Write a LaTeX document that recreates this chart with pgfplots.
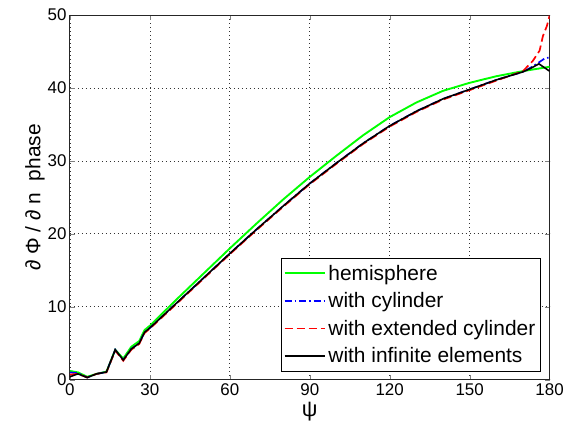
\documentclass[border=0pt]{standalone}
\usepackage{fontspec}
\setmainfont{Liberation Sans}
\usepackage{pgfplots}
\pgfplotsset{compat=1.18}
\begin{document}
\begin{tikzpicture}
\begin{axis}[
  scale only axis,
  width=480bp, height=365bp,
  xmin=0, xmax=180, ymin=0, ymax=50,
  xtick={0,30,...,180}, ytick={0,10,...,50},
  tick align=inside,
  tick pos=both,
  major tick length=5bp,
  grid=major,
  grid style={black!80, dash pattern=on 0.8bp off 3.2bp, line width=0.7pt},
  axis line style={black!85, line width=0.9pt},
  /pgf/number format/assume math mode=true,
  tick label style={font=\fontsize{17}{19}\selectfont},
  xlabel={\fontsize{22}{24}\selectfont ψ},
  ylabel={\fontsize{21}{23}\selectfont ∂ Φ / ∂ n \ phase},
  xlabel style={yshift=0bp},
  ylabel style={yshift=-4bp},
  legend style={at={(0.981,0.022)}, anchor=south east,
    font=\fontsize{21}{23}\selectfont, row sep=7bp, inner sep=3bp, inner ysep=5bp},
  legend cell align=left,
  legend image post style={xscale=2.4},
]
\addplot[color={rgb,1:red,0;green,1;blue,0}, draw={rgb,1:red,0;green,1;blue,0}, line width=1.9pt] coordinates {
(0,1.2) (3,1.0) (6.5,0.4) (10,0.8) (13.7,1.1) (17,4.1) (20,2.9) (23,4.5) (26,5.3) (28,6.8) (30,7.4) (35,9.2) (40,11.0) (50,14.5) (60,18.0) (70,21.4) (80,24.7) (90,27.8) (100,30.7) (110,33.5) (120,36.0) (130,38.0) (140,39.6) (150,40.7) (160,41.6) (170,42.3) (175,42.6) (180,42.9)};
\addlegendentry{hemisphere}
\addplot[color=blue, draw=blue, line width=1.7pt, dash pattern=on 7bp off 3bp on 1.5bp off 3bp] coordinates {
(0,1.0) (3,0.9) (6.5,0.3) (10,0.8) (13.7,1.05) (17,4.1) (20,2.7) (23,4.2) (26,5.0) (28,6.5) (30,7.1) (35,8.8) (40,10.5) (50,13.9) (60,17.3) (70,20.6) (80,23.8) (90,26.9) (100,29.7) (110,32.4) (120,34.8) (130,36.8) (140,38.5) (150,39.8) (160,41.1) (170,42.2) (173,42.8) (176,43.5) (178,44.0) (180,44.2)};
\addlegendentry{with cylinder}
\addplot[color=red, draw=red, line width=1.7pt, dash pattern=on 8bp off 4bp] coordinates {
(0,0.7) (3,0.8) (6.5,0.3) (10,0.8) (13.7,1.0) (17,4.0) (20,2.6) (23,4.1) (26,4.9) (28,6.4) (30,7.0) (35,8.7) (40,10.4) (50,13.8) (60,17.2) (70,20.5) (80,23.7) (90,26.8) (100,29.6) (110,32.3) (120,34.7) (130,36.7) (140,38.4) (150,39.7) (160,41.0) (170,42.3) (173.7,43.7) (176.25,45.1) (177.5,47.1) (179,48.5) (180,49.9)};
\addlegendentry{with extended cylinder}
\addplot[color=black, draw=black, line width=1.6pt] coordinates {
(0,0.4) (3,0.8) (6.5,0.3) (10,0.8) (13.7,1.05) (17,4.1) (20,2.7) (23,4.2) (26,5.0) (28,6.5) (30,7.1) (35,8.8) (40,10.5) (50,13.9) (60,17.3) (70,20.6) (80,23.8) (90,26.9) (100,29.7) (110,32.4) (120,34.8) (130,36.8) (140,38.5) (150,39.8) (160,41.1) (170,42.2) (173,42.7) (176,43.3) (178,42.8) (180,42.3)};
\addlegendentry{with infinite elements}
\end{axis}
\path ([shift={(-70bp,-61bp)}]current axis.south west) rectangle ([shift={(17bp,15bp)}]current axis.north east);
\end{tikzpicture}
\end{document}
